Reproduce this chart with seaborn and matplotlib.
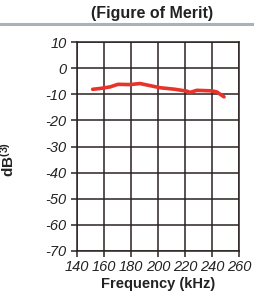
import matplotlib
matplotlib.use("Agg")
import matplotlib.pyplot as plt
import seaborn as sns
import pandas as pd

freq_khz = [151.6, 157.0, 164.4, 170.4, 179.3, 186.7, 201.5, 212.6, 221.3, 223.7, 228.7, 239.8, 243.5, 248.9]
fom_db = [-8.1, -7.8, -7.2, -6.2, -6.3, -5.9, -7.5, -8.1, -8.8, -9.3, -8.5, -8.7, -9.1, -11.0]
x_ticks = [140, 160, 180, 200, 220, 240, 260]
y_ticks = [10, 0, -10, -20, -30, -40, -50, -60, -70]
title = "(Figure of Merit)"
x_label = "Frequency (kHz)"
y_label = r"dB$^{\mathregular{(3)}}$"

sns.set_theme(style="white")
plt.rcParams['font.family'] = ['Liberation Sans', 'DejaVu Sans']
plt.rcParams['mathtext.default'] = 'regular'

df = pd.DataFrame({"freq": freq_khz, "db": fom_db})

fig = plt.figure(figsize=(2.54, 3.01), dpi=100)
ax = fig.add_axes([77/254, 1-251/301, (239-77)/254, (251-42)/301])

grid_c = "#2b2222"
txt_c = "#222222"
for xv in x_ticks:
    ax.axvline(xv, color=grid_c, lw=1.1, zorder=1)
for yv in y_ticks:
    ax.axhline(yv, color=grid_c, lw=1.1, zorder=1)

sns.lineplot(data=df, x="freq", y="db", ax=ax, color="#e8322a", lw=2.6, zorder=3)

ax.set_xlim(140, 260)
ax.set_ylim(-70, 10)
ax.set_xticks(x_ticks)
ax.set_yticks(y_ticks)
ax.set_xticklabels([str(v) for v in x_ticks])
ax.set_yticklabels([str(v) for v in y_ticks])
for lab in ax.get_xticklabels() + ax.get_yticklabels():
    lab.set_fontfamily(['Liberation Sans', 'DejaVu Sans'])
    lab.set_fontstyle('italic')
    lab.set_fontsize(10.5)
    lab.set_color(txt_c)
ax.tick_params(axis="both", which="both", length=4.5, width=1.1, color=grid_c, direction="out",
               left=True, bottom=True)
ax.tick_params(axis="y", pad=3)
ax.tick_params(axis="x", pad=2)
for s in ax.spines.values():
    s.set_color(grid_c)
    s.set_linewidth(1.1)

ax.set_xlabel(x_label, fontsize=10.5, fontweight="bold", color=txt_c, labelpad=2)
ax.set_ylabel(y_label, fontsize=11, fontweight="bold", color=txt_c)
ax.yaxis.set_label_coords(-0.37, 0.44)

fig.text(152/254, 1-13.5/301, title, ha="center", va="center", fontsize=11.5, fontweight="bold",
         color=txt_c)
fig.add_artist(plt.Line2D([0, 1], [1-23.5/301, 1-23.5/301], transform=fig.transFigure, color="#a7b3bc", lw=2.2))

fig.savefig("out.png", dpi=100)
